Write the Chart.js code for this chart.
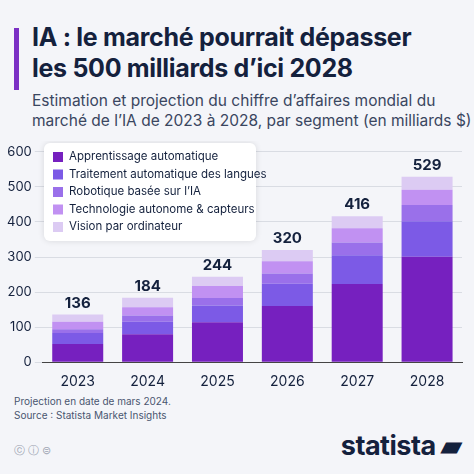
<!DOCTYPE html>
<html><head><meta charset="utf-8">
<script src="https://cdn.jsdelivr.net/npm/chart.js@4"></script>
<style>
body{margin:0;width:474px;height:474px;background:#f4f5f9;font-family:Inter,"Noto Sans",sans-serif;color:#14213d;position:relative;overflow:hidden}
.bar{position:absolute;left:14px;top:28px;width:5px;height:62px;background:#7b2fc4}
h1{position:absolute;left:32px;top:22px;margin:0;font-size:25px;line-height:31px;font-weight:700;letter-spacing:-0.3px}
.sub{position:absolute;left:32px;top:91px;font-size:15.5px;line-height:20px;color:#3a4660;width:440px}
.wrap{position:absolute;left:0;top:141px;width:470px;height:252px}
.foot{position:absolute;left:14px;top:394px;font-size:10px;line-height:14px;color:#4a5570}
.logo{position:absolute;right:12px;bottom:12px;font-size:27px;font-weight:700;color:#14213d;letter-spacing:-0.5px}
.cc{position:absolute;left:14px;bottom:16px;font-size:11px;color:#a0a6b4}
</style></head><body>
<div class="bar"></div>
<h1>IA : le marché pourrait dépasser<br>les 500 milliards d’ici 2028</h1>
<div class="sub">Estimation et projection du chiffre d’affaires mondial du marché de l’IA de 2023 à 2028, par segment (en milliards $)</div>
<div class="wrap"><canvas id="c"></canvas></div>
<div class="foot">Projection en date de mars 2024.<br>Source : Statista Market Insights</div>
<div class="cc">ⓒ ⓘ ⊜</div>
<div class="logo">statista ▰</div>
<script>
const years = ['2023','2024','2025','2026','2027','2028'];
const apprentissage = [52, 80, 114, 160, 223, 301];
const langues = [31, 35, 48, 64, 82, 101];
const robotique = [11, 18, 21, 29, 36, 46];
const autonome = [21, 24, 34, 35, 41, 44];
const vision = [21, 27, 27, 32, 34, 37];
const totals = [136, 184, 244, 320, 416, 529];
const colors = ['#7620bf', '#7c5ae6', '#9a70ea', '#c191f2', '#dccbf3'];

const totalLabels = {
  id: 'totalLabels',
  afterDatasetsDraw(chart) {
    const c = chart.ctx;
    const meta = chart.getDatasetMeta(4);
    c.save();
    c.font = 'bold 15px Inter, sans-serif';
    c.fillStyle = '#14213d';
    c.textAlign = 'center';
    meta.data.forEach((bar, i) => c.fillText(totals[i], bar.x, bar.y - 7));
    c.restore();
  }
};

new Chart(document.getElementById('c'), {
  type: 'bar',
  data: {
    labels: years,
    datasets: [
      {label: 'Apprentissage automatique', data: apprentissage},
      {label: 'Traitement automatique des langues', data: langues},
      {label: 'Robotique basée sur l’IA', data: robotique},
      {label: 'Technologie autonome & capteurs', data: autonome},
      {label: 'Vision par ordinateur', data: vision}
    ].map((d, i) => ({...d, backgroundColor: colors[i], barPercentage: 0.73, categoryPercentage: 1}))
  },
  options: {
    responsive: true, maintainAspectRatio: false, animation: false,
    layout: {padding: {left: 4, right: 8, top: 6}},
    scales: {
      x: {stacked: true, grid: {display: false}, border: {color: '#444'},
          ticks: {color: '#14213d', font: {size: 14, family: 'Inter'}}},
      y: {stacked: true, min: 0, max: 600, grid: {color: '#d9dce3'}, border: {display: false},
          ticks: {stepSize: 100, color: '#14213d', font: {size: 13, family: 'Inter'}}}
    },
    plugins: {
      legend: {display: false},
      tooltip: {enabled: false}
    }
  },
  plugins: [totalLabels, {
    id: 'box',
    afterDraw(chart) {
      const c = chart.ctx;
      c.save();
      c.shadowColor = 'rgba(0,0,0,0.12)'; c.shadowBlur = 6;
      c.fillStyle = '#fff';
      c.beginPath(); c.roundRect(44, 2, 212, 98, 6); c.fill();
      c.shadowBlur = 0;
      c.font = '11.5px Inter, sans-serif';
      c.textBaseline = 'middle';
      chart.data.datasets.forEach((d, i) => {
        const y = 16 + i * 17.5;
        c.fillStyle = colors[i]; c.fillRect(53, y - 5, 10, 10);
        c.fillStyle = '#14213d'; c.fillText(d.label, 69, y);
      });
      c.restore();
    }
  }]
});
</script>
</body></html>
